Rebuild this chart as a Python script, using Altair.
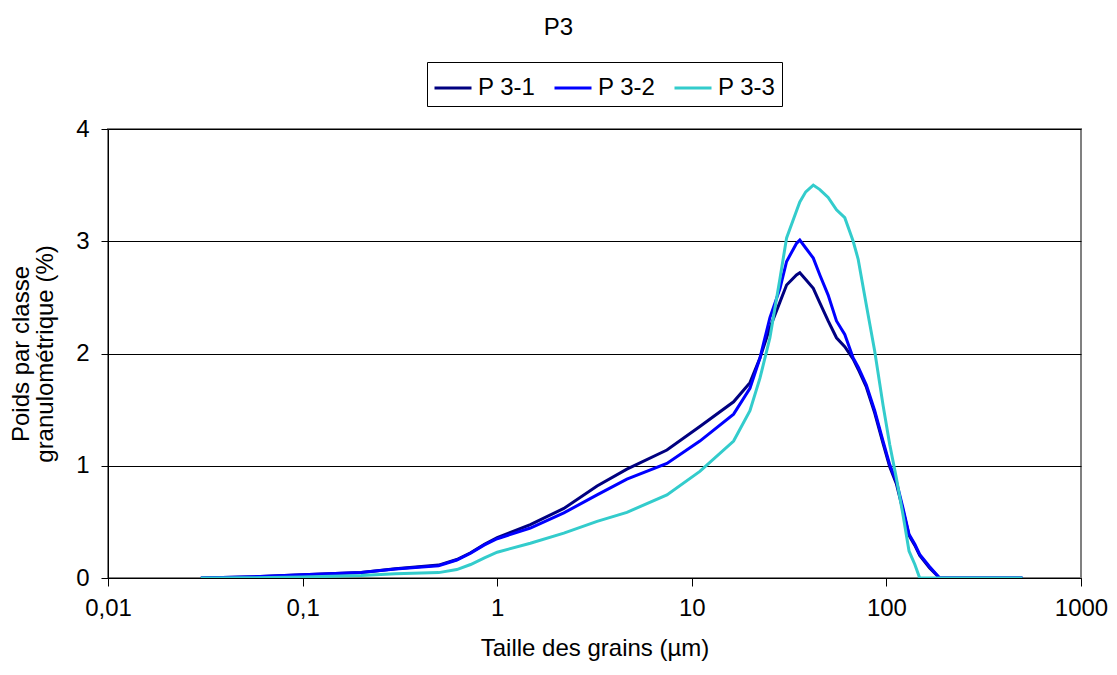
import altair as alt
import pandas as pd

# Grain size (µm) and weight per class (%)
sizes = [0.03, 0.05, 0.1, 0.2, 0.3, 0.5, 0.62, 0.73, 0.86, 1.0, 1.48, 2.2, 3.26,
         4.64, 7.45, 11.0, 16.4, 19.9, 22.4, 25.2, 28.4, 30.7, 34.5, 35.9, 38.5,
         42.1, 45.5, 50.2, 55.4, 61.1, 67.5, 71.6, 78.9, 87.1, 96.1, 104, 112.5,
         121.8, 130.7, 140, 148.3, 166.8, 187.7, 500]
p3_1 = [0, 0.008, 0.028, 0.05, 0.082, 0.115, 0.165, 0.225, 0.30, 0.36, 0.475, 0.62, 0.82,
        0.97, 1.14, 1.35, 1.57, 1.74, 1.96, 2.23, 2.46, 2.61, 2.70, 2.72, 2.66,
        2.58, 2.45, 2.29, 2.14, 2.06, 1.95, 1.86, 1.70, 1.47, 1.20, 0.99, 0.84,
        0.60, 0.38, 0.29, 0.20, 0.09, 0, 0]
p3_2 = [0, 0.008, 0.028, 0.05, 0.08, 0.11, 0.16, 0.22, 0.295, 0.35, 0.445, 0.58, 0.74,
        0.88, 1.02, 1.22, 1.46, 1.69, 1.96, 2.32, 2.58, 2.82, 2.98, 3.01, 2.94,
        2.85, 2.70, 2.52, 2.29, 2.17, 1.96, 1.88, 1.72, 1.49, 1.22, 1.01, 0.86,
        0.62, 0.39, 0.30, 0.21, 0.10, 0, 0]
p3_3 = [0, 0.002, 0.008, 0.022, 0.038, 0.048, 0.075, 0.12, 0.18, 0.23, 0.31, 0.40, 0.505,
        0.585, 0.74, 0.95, 1.22, 1.49, 1.78, 2.14, 2.67, 3.03, 3.27, 3.35, 3.44,
        3.50, 3.46, 3.39, 3.28, 3.21, 3.00, 2.84, 2.43, 2.02, 1.54, 1.19, 0.89,
        0.56, 0.24, 0.12, 0, 0, 0, 0]

series_names = ["P 3-1", "P 3-2", "P 3-3"]
series_colors = ["#000080", "#0000FF", "#33CCCC"]
x_ticks = [0.01, 0.1, 1, 10, 100, 1000]
y_ticks = [0, 1, 2, 3, 4]

rows = []
for name, vals in zip(series_names, [p3_1, p3_2, p3_3]):
    for s, v in zip(sizes, vals):
        rows.append({"taille": s, "poids": v, "serie": name})
df = pd.DataFrame(rows)

FONT = "Liberation Sans"
FS = 24

chart = alt.Chart(df).mark_line(strokeWidth=3, clip=True).encode(
    x=alt.X("taille:Q",
            scale=alt.Scale(type="log", domain=[0.01, 1000], nice=False),
            axis=alt.Axis(values=x_ticks,
                          labelExpr="replace(format(datum.value, '~g'), '.', ',')",
                          grid=False, title="Taille des grains (µm)",
                          domainColor="black", tickColor="black", tickSize=8,
                          labelPadding=10, titlePadding=16,
                          labelFont=FONT, labelFontSize=FS, labelColor="black",
                          titleFont=FONT, titleFontSize=FS, titleFontWeight="normal",
                          titleColor="black", labelFlush=False)),
    y=alt.Y("poids:Q",
            scale=alt.Scale(domain=[0, 4]),
            axis=alt.Axis(values=y_ticks, format="d", grid=True, gridColor="black",
                          gridOpacity=1, gridWidth=1,
                          title=["Poids par classe", "granulométrique (%)"],
                          domainColor="black", tickColor="black", tickSize=7,
                          labelPadding=12, titlePadding=18,
                          labelFont=FONT, labelFontSize=FS, labelColor="black",
                          titleFont=FONT, titleFontSize=FS, titleFontWeight="normal",
                          titleColor="black", titleLineHeight=24)),
    color=alt.Color("serie:N",
                    scale=alt.Scale(domain=series_names, range=series_colors),
                    legend=alt.Legend(title=None, orient="none", direction="horizontal",
                                      legendX=319, legendY=-67,
                                      symbolType="stroke", symbolSize=1369,
                                      symbolStrokeWidth=3, labelFont=FONT,
                                      labelFontSize=FS, labelColor="black",
                                      labelOffset=5, columnPadding=12,
                                      strokeColor="black", fillColor="white",
                                      padding=6)),
).properties(
    width=973, height=449,
    autosize=alt.AutoSizeParams(type="none"),
    padding={"left": 100, "top": 121, "right": 28, "bottom": 89},
    title=alt.TitleParams("P3", font=FONT, fontSize=FS, fontWeight="normal",
                          color="black", anchor="middle", dx=-36, offset=22),
).configure_view(stroke="#808080", strokeWidth=2)

chart.save("out.html", embed_options={"renderer": "svg", "actions": False})
